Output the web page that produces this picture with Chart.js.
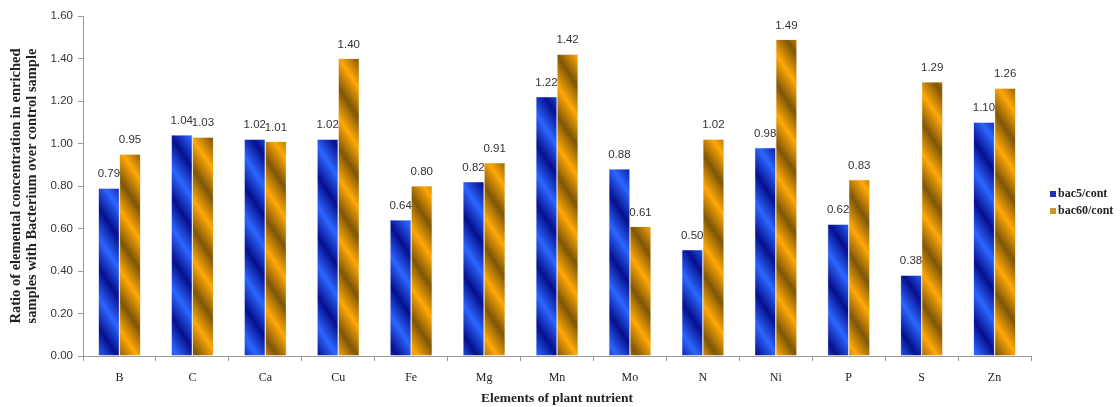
<!DOCTYPE html>
<html>
<head>
<meta charset="utf-8">
<script src="https://cdn.jsdelivr.net/npm/chart.js@4/dist/chart.umd.min.js"></script>
<style>
  html, body { margin: 0; padding: 0; background: #fff; }
  #wrap { width: 1120px; height: 407px; }
</style>
</head>
<body>
<div id="wrap"><canvas id="c" width="1120" height="407"></canvas></div>
<script>
// Nutrient ratios: enriched samples vs. control
const elements = ['B', 'C', 'Ca', 'Cu', 'Fe', 'Mg', 'Mn', 'Mo', 'N', 'Ni', 'P', 'S', 'Zn'];
const bac5 = [0.79, 1.04, 1.02, 1.02, 0.64, 0.82, 1.22, 0.88, 0.50, 0.98, 0.62, 0.38, 1.10];
const bac60 = [0.95, 1.03, 1.01, 1.40, 0.80, 0.91, 1.42, 0.61, 1.02, 1.49, 0.83, 1.29, 1.26];
const seriesNames = ['bac5/cont', 'bac60/cont'];
const yTicks = [0, 0.2, 0.4, 0.6, 0.8, 1.0, 1.2, 1.4, 1.6];

// Diagonal banded fill, tiled across the canvas
function stripeFill(dark, bright) {
  const W = 40, H = 60;
  const t = document.createElement('canvas');
  t.width = W; t.height = H;
  const g = t.getContext('2d');
  const dx = 1.5, dy = -1, n = 3.25;
  const k0 = -60 / n, k1 = 60 / n;
  const grad = g.createLinearGradient(dx * k0, dy * k0, dx * k1, dy * k1);
  grad.addColorStop(0, dark);
  grad.addColorStop(0.25, bright);
  grad.addColorStop(0.5, dark);
  grad.addColorStop(0.75, bright);
  grad.addColorStop(1, dark);
  g.fillStyle = grad;
  g.fillRect(0, 0, W, H);
  return g.createPattern(t, 'repeat');
}

const blueFill = stripeFill('#06108e', '#2c66ff');
const orangeFill = stripeFill('#7e5606', '#ffa806');
const swatch = ['#1e30c4', '#c8952c'];

const valueLabels = {
  id: 'valueLabels',
  afterDatasetsDraw(chart) {
    const ctx = chart.ctx;
    ctx.save();
    ctx.font = '11.5px "Liberation Sans", Arial, sans-serif';
    ctx.fillStyle = '#333';
    ctx.textAlign = 'center';
    ctx.textBaseline = 'middle';
    chart.data.datasets.forEach((ds, i) => {
      chart.getDatasetMeta(i).data.forEach((bar, j) => {
        ctx.fillText(ds.data[j].toFixed(2), bar.x, bar.y - 14);
      });
    });
    ctx.restore();
  }
};

const sideLegend = {
  id: 'sideLegend',
  afterDraw(chart) {
    const ctx = chart.ctx;
    ctx.save();
    ctx.font = 'bold 12px "Liberation Serif", "Times New Roman", serif';
    ctx.textBaseline = 'middle';
    ctx.textAlign = 'left';
    chart.data.datasets.forEach((ds, i) => {
      const y = 194 + i * 17;
      ctx.fillStyle = swatch[i];
      ctx.fillRect(1050, y - 3, 6, 6);
      ctx.fillStyle = '#222';
      ctx.fillText(ds.label, 1058, y);
    });
    ctx.restore();
  }
};

new Chart(document.getElementById('c'), {
  type: 'bar',
  data: {
    labels: elements,
    datasets: [
      { label: seriesNames[0], data: bac5, backgroundColor: blueFill, borderColor: 'rgba(170,180,220,0.8)', borderWidth: 0.6 },
      { label: seriesNames[1], data: bac60, backgroundColor: orangeFill, borderColor: 'rgba(220,200,150,0.8)', borderWidth: 0.6 }
    ]
  },
  options: {
    responsive: false,
    animation: false,
    devicePixelRatio: 1,
    layout: { padding: { top: 16, right: 89, left: 0, bottom: 0 } },
    datasets: { bar: { barPercentage: 1, categoryPercentage: 0.58 } },
    plugins: {
      legend: { display: false },
      tooltip: { enabled: false }
    },
    scales: {
      x: {
        offset: true,
        grid: { offset: true, drawOnChartArea: false, tickLength: 5, color: '#999' },
        border: { color: '#999' },
        ticks: {
          color: '#222',
          padding: 10,
          font: { family: '"Liberation Serif", "Times New Roman", serif', size: 12 }
        },
        title: {
          display: true,
          text: 'Elements of plant nutrient',
          color: '#222',
          padding: { top: 3, bottom: 0 },
          font: { family: '"Liberation Serif", "Times New Roman", serif', size: 13.5, weight: 'bold' }
        },
        afterFit(s) { s.height = 51; }
      },
      y: {
        min: 0,
        max: 1.6,
        afterBuildTicks(s) { s.ticks = yTicks.map(v => ({ value: v })); },
        grid: { drawOnChartArea: false, tickLength: 5, color: '#999' },
        border: { color: '#999' },
        ticks: {
          color: '#333',
          padding: 5,
          font: { family: '"Liberation Sans", Arial, sans-serif', size: 11.5 },
          callback: v => Number(v).toFixed(2)
        },
        title: {
          display: true,
          text: ['Ratio of elemental concentration in enriched', 'samples with Bacterium over control sample'],
          color: '#222',
          padding: { top: 8, bottom: 4 },
          font: { family: '"Liberation Serif", "Times New Roman", serif', size: 14.5, weight: 'bold', lineHeight: 1.12 }
        },
        afterFit(s) { s.width = 83; }
      }
    }
  },
  plugins: [valueLabels, sideLegend]
});
</script>
</body>
</html>
